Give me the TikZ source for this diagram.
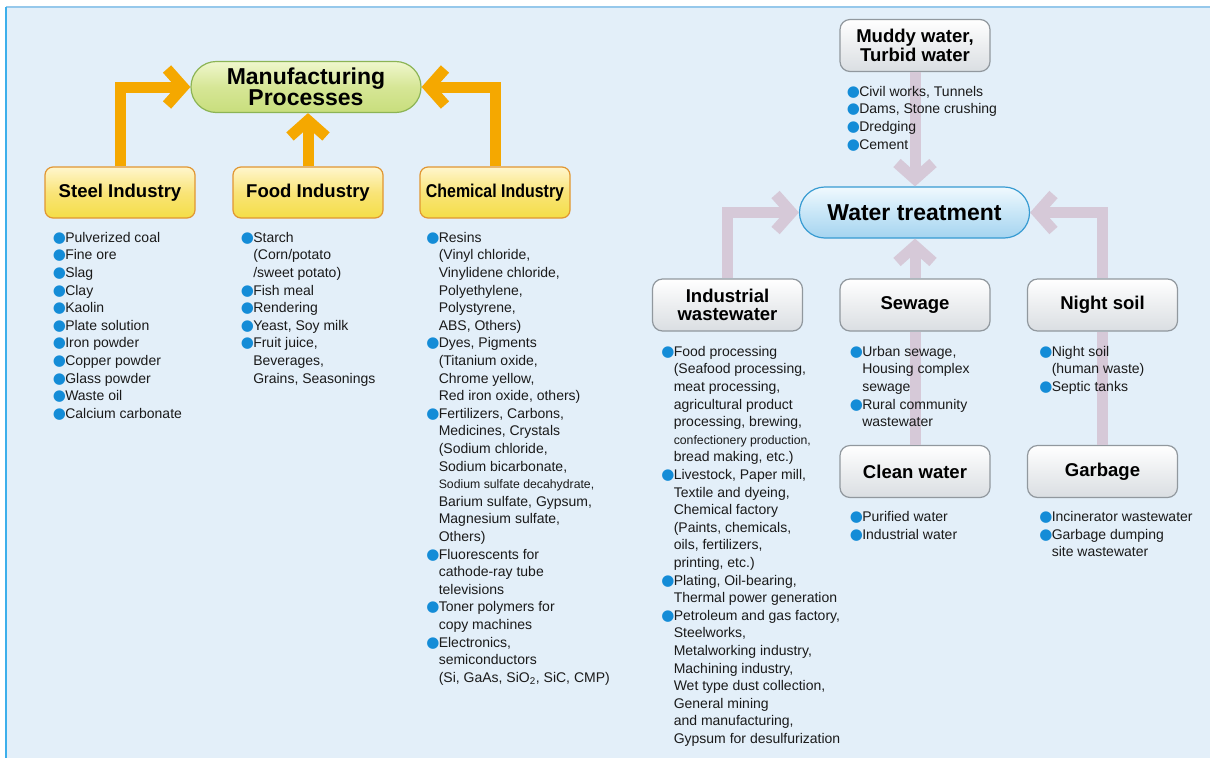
\documentclass[tikz,border=0pt]{standalone}
\usepackage{fontspec}
\usepackage{graphicx}
\setmainfont{Liberation Sans}
\newfontfamily\dotfont{DejaVu Sans}
\usetikzlibrary{arrows.meta}

\definecolor{bgblue}{RGB}{227,239,249}
\definecolor{topline}{RGB}{150,200,235}
\definecolor{leftline}{RGB}{60,175,235}
\definecolor{orarr}{RGB}{245,168,0}
\definecolor{mvarr}{RGB}{214,201,216}
\definecolor{dotb}{RGB}{20,140,215}
\definecolor{txt}{RGB}{26,26,26}
\definecolor{ytop}{RGB}{255,246,205}
\definecolor{ymid}{RGB}{249,228,120}
\definecolor{ybot}{RGB}{244,222,70}
\definecolor{ybord}{RGB}{225,150,50}
\definecolor{gtop}{RGB}{240,247,205}
\definecolor{gmid}{RGB}{214,230,150}
\definecolor{gbot}{RGB}{200,222,125}
\definecolor{gbord}{RGB}{140,180,85}
\definecolor{wtop}{RGB}{255,255,255}
\definecolor{wmid}{RGB}{236,238,240}
\definecolor{wbot}{RGB}{218,222,226}
\definecolor{wbord}{RGB}{145,152,158}
\definecolor{btop}{RGB}{240,249,254}
\definecolor{bmid}{RGB}{200,230,247}
\definecolor{bbot}{RGB}{165,212,240}
\definecolor{bbord}{RGB}{55,155,210}

\newcommand{\bul}{\makebox[8.25pt][l]{\hspace{-1pt}\textcolor{dotb}{\dotfont\fontsize{11.3}{11.3}\selectfont ●}}}

\begin{document}
\begin{tikzpicture}[x=0.75pt,y=-0.75pt]
	\tikzstyle{every node}+=[inner sep=0pt,text=txt,font=\fontsize{10.5}{13.2}\selectfont]
	\tikzstyle{ybox}=[draw=ybord,line width=0.9pt,rounded corners=6pt,top color=ytop,bottom color=ybot,middle color=ymid,minimum width=112.5pt,minimum height=38.25pt,align=center,text=black,font=\fontsize{13.9}{13.75}\selectfont\bfseries]
	\tikzstyle{gbox}=[draw=wbord,line width=0.9pt,rounded corners=7.5pt,top color=wtop,bottom color=wbot,middle color=wmid,minimum width=112.5pt,minimum height=39pt,align=center,text=black,font=\fontsize{13.9}{13.75}\selectfont\bfseries]
	\tikzstyle{pill}=[line width=0.9pt,rounded corners=19pt,minimum width=172.5pt,minimum height=38.25pt,align=center,text=black,font=\fontsize{17.25}{15.75}\selectfont\bfseries]
	\tikzstyle{oarr}=[draw=orarr,line width=8.25pt,-{Straight Barb[sharp,length=12pt,width=27pt]}]
	\tikzstyle{marr}=[draw=mvarr,line width=8.25pt,-{Straight Barb[sharp,length=12pt,width=27pt]}]
	\tikzstyle{mline}=[draw=mvarr,line width=8.25pt]
	\tikzstyle{lst}=[anchor=north west]
	\useasboundingbox (0,0) rectangle (1210,758);
	\fill [bgblue] (6,7) rectangle (1210,758);
	\draw [topline,line width=1pt] (6,7) -- (1210,7);
	\draw [leftline,line width=1.2pt] (6,7) -- (6,758);

	\node [pill,draw=gbord,top color=gtop,bottom color=gbot,middle color=gmid] (proc) at (306,87) {Manufacturing\\Processes};
	\node [ybox] (steel) at (120,192.5) {Steel Industry};
	\node [ybox] (food) at (308,192.5) {Food Industry};
	\node [ybox] (chem) at (495,192.5) {\scalebox{0.86}[1]{Chemical Industry}};

	\node [pill,draw=bbord,top color=btop,bottom color=bbot,middle color=bmid] (water) at (914.5,212.5) {Water treatment};
	\node [gbox] (muddy) at (915,45.5) {Muddy water,\\Turbid water};
	\node [gbox] (indus) at (727.5,305) {Industrial\\wastewater};
	\node [gbox] (sewage) at (915,305) {Sewage};
	\node [gbox] (night) at (1102.5,305) {Night soil};
	\node [gbox] (clean) at (915,471.5) {Clean water};
	\node [gbox] (garbage) at (1102.5,471.5) {Garbage};

	\draw [oarr] (steel.north) |- (proc.west);
	\draw [oarr] (food.north) -- (food.north |- proc.south);
	\draw [oarr] (chem.north) |- (proc.east);
	\draw [marr] (muddy.south) -- (muddy.south |- water.north);
	\draw [marr] (indus.north) |- (water.west);
	\draw [marr] (sewage.north) -- (sewage.north |- water.south);
	\draw [marr] (night.north) |- (water.east);
	\draw [mline] (clean.north) -- (sewage.south);
	\draw [mline] (garbage.north) -- (night.south);

	\node [lst] (steellst) at (54,229.7) {\begin{tabular}{@{}l@{}l@{}}
		\bul&Pulverized coal\\
		\bul&Fine ore\\
		\bul&Slag\\
		\bul&Clay\\
		\bul&Kaolin\\
		\bul&Plate solution\\
		\bul&Iron powder\\
		\bul&Copper powder\\
		\bul&Glass powder\\
		\bul&Waste oil\\
		\bul&Calcium carbonate
	\end{tabular}};
	\node [lst] (foodlst) at (242,229.7) {\begin{tabular}{@{}l@{}l@{}}
		\bul&Starch\\
		&(Corn/potato\\
		&/sweet potato)\\
		\bul&Fish meal\\
		\bul&Rendering\\
		\bul&Yeast, Soy milk\\
		\bul&Fruit juice,\\
		&Beverages,\\
		&Grains, Seasonings
	\end{tabular}};
	\node [lst] (chemlst) at (427.5,229.7) {\begin{tabular}{@{}l@{}l@{}}
		\bul&Resins\\
		&(Vinyl chloride,\\
		&Vinylidene chloride,\\
		&Polyethylene,\\
		&Polystyrene,\\
		&ABS, Others)\\
		\bul&Dyes, Pigments\\
		&(Titanium oxide,\\
		&Chrome yellow,\\
		&Red iron oxide, others)\\
		\bul&Fertilizers, Carbons,\\
		&Medicines, Crystals\\
		&(Sodium chloride,\\
		&Sodium bicarbonate,\\
		&{\fontsize{9.2}{13.2}\selectfont Sodium sulfate decahydrate,}\\
		&Barium sulfate, Gypsum,\\
		&Magnesium sulfate,\\
		&Others)\\
		\bul&Fluorescents for\\
		&cathode-ray tube\\
		&televisions\\
		\bul&Toner polymers for\\
		&copy machines\\
		\bul&Electronics,\\
		&semiconductors\\
		&(Si, GaAs, SiO\textsubscript{2}, SiC, CMP)
	\end{tabular}};

	\node [lst] (muddylst) at (848,83.7) {\begin{tabular}{@{}l@{}l@{}}
		\bul&Civil works, Tunnels\\
		\bul&Dams, Stone crushing\\
		\bul&Dredging\\
		\bul&Cement
	\end{tabular}};
	\node [lst] (induslst) at (662.5,343.7) {\begin{tabular}{@{}l@{}l@{}}
		\bul&Food processing\\
		&(Seafood processing,\\
		&meat processing,\\
		&agricultural product\\
		&processing, brewing,\\
		&{\fontsize{9.2}{13.2}\selectfont confectionery production,}\\
		&bread making, etc.)\\
		\bul&Livestock, Paper mill,\\
		&Textile and dyeing,\\
		&Chemical factory\\
		&(Paints, chemicals,\\
		&oils, fertilizers,\\
		&printing, etc.)\\
		\bul&Plating, Oil-bearing,\\
		&Thermal power generation\\
		\bul&Petroleum and gas factory,\\
		&Steelworks,\\
		&Metalworking industry,\\
		&Machining industry,\\
		&Wet type dust collection,\\
		&General mining\\
		&and manufacturing,\\
		&Gypsum for desulfurization
	\end{tabular}};
	\node [lst] (sewagelst) at (851,343.7) {\begin{tabular}{@{}l@{}l@{}}
		\bul&Urban sewage,\\
		&Housing complex\\
		&sewage\\
		\bul&Rural community\\
		&wastewater
	\end{tabular}};
	\node [lst] (nightlst) at (1040.5,343.7) {\begin{tabular}{@{}l@{}l@{}}
		\bul&Night soil\\
		&(human waste)\\
		\bul&Septic tanks
	\end{tabular}};
	\node [lst] (cleanlst) at (851,509) {\begin{tabular}{@{}l@{}l@{}}
		\bul&Purified water\\
		\bul&Industrial water
	\end{tabular}};
	\node [lst] (garbagelst) at (1040.5,509) {\begin{tabular}{@{}l@{}l@{}}
		\bul&Incinerator wastewater\\
		\bul&Garbage dumping\\
		&site wastewater
	\end{tabular}};
\end{tikzpicture}
\end{document}
